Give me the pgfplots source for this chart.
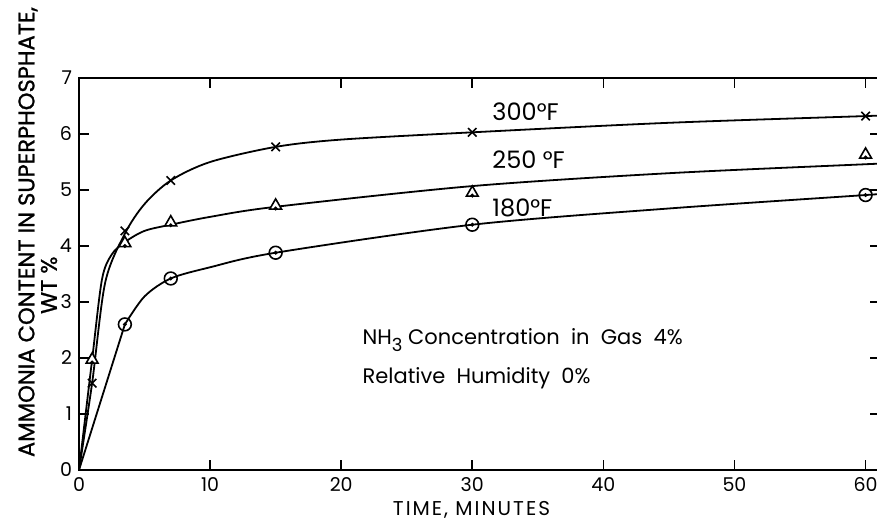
\documentclass[border=0pt]{standalone}
\usepackage{fontspec}
\setmainfont{Poppins}
\usepackage{pgfplots}
\pgfplotsset{compat=1.18}

\begin{document}
\begin{tikzpicture}
\begin{axis}[
  scale only axis,
  width=400.5pt, height=196pt,
  xmin=0, xmax=61.1, ymin=0, ymax=7,
  xtick={0,10,...,60}, ytick={0,...,7},
  tick align=inside, major tick length=5pt,
  axis line style={line width=1.3pt},
  tick style={line width=0.8pt, black},
  tick label style={font=\fontsize{9.5}{10}\selectfont},
  /pgf/number format/assume math mode=true,
  xlabel={TIME, MINUTES},
  xlabel style={font=\fontsize{10}{11}\selectfont\addfontfeatures{LetterSpace=10}, yshift=2pt, xshift=-4pt},
  clip=false,
  every axis plot/.append style={line width=0.9pt, black},
]
% fitted curves
\addplot[smooth, no marks] coordinates {(0,0) (1,1.55) (2,3.35) (3.5,4.22) (5,4.75) (7,5.17) (10,5.5) (15,5.77) (20,5.9) (30,6.03) (45,6.2) (60,6.32) (61.1,6.33)};
\addplot[smooth, no marks] coordinates {(0,0) (1,1.97) (1.75,3.4) (2.5,3.85) (3.5,4.07) (5,4.27) (7,4.38) (10,4.52) (15,4.7) (30,5.07) (45,5.3) (60,5.46) (61.1,5.47)};
\addplot[no marks] coordinates {(0,0) (3.5,2.6)};
\addplot[smooth, no marks] coordinates {(3.5,2.6) (5,3.1) (7,3.42) (10,3.62) (15,3.88) (30,4.38) (45,4.67) (60,4.91) (61.1,4.93)};

% measured points
% 300 F
\addplot[only marks, mark=x, mark size=3pt, mark options={line width=0.8pt}] coordinates {(1,1.55) (3.5,4.27) (7,5.17) (15,5.77) (30,6.03) (60,6.32)};
% 250 F
\addplot[only marks, mark=triangle*, mark size=3.4pt, mark options={fill=white, line width=0.8pt}] coordinates {(1,1.97) (3.5,4.05) (7,4.42) (15,4.72) (30,4.95) (60,5.63)};
\addplot[only marks, mark=*, mark size=0.45pt] coordinates {(1,1.92) (3.5,4.0) (7,4.37) (15,4.67) (30,4.9) (60,5.58)};
% 180 F
\addplot[only marks, mark=o, mark size=3.2pt, mark options={fill=white, line width=0.8pt}] coordinates {(3.5,2.6) (7,3.42) (15,3.88) (30,4.38) (60,4.91)};
\addplot[only marks, mark=*, mark size=0.45pt] coordinates {(3.5,2.6) (7,3.42) (15,3.88) (30,4.38) (60,4.91)};

\node[anchor=west, font=\fontsize{12}{14}\selectfont] at (axis cs:31.0,6.39) {300°F};
\node[anchor=west, font=\fontsize{12}{14}\selectfont] at (axis cs:31.0,5.54) {250 °F};
\node[anchor=west, font=\fontsize{12}{14}\selectfont] at (axis cs:31.0,4.68) {180°F};
\node[anchor=west, font=\fontsize{10.5}{12}\selectfont] at (axis cs:21.1,2.32) {NH\raisebox{-0.55ex}{\fontsize{9}{10}\selectfont 3}\ Concentration\ \ in\ \ Gas\ \ 4\%};
\node[anchor=west, font=\fontsize{10.5}{12}\selectfont] at (axis cs:21.1,1.64) {Relative\ \ Humidity\ \ 0\%};

\node[rotate=90, font=\fontsize{11.3}{12}\selectfont\addfontfeatures{FakeBold=1}] at ([xshift=-25.5pt]axis cs:0,4.25) {AMMONIA CONTENT IN SUPERPHOSPHATE,};
\node[rotate=90, font=\fontsize{11.3}{12}\selectfont\addfontfeatures{FakeBold=1}] at ([xshift=-15pt]axis cs:0,3.3) {WT \%};
\end{axis}
\pgfresetboundingbox
\path[use as bounding box] (-39.5pt,-24.5pt) rectangle (399pt,235pt);
\end{tikzpicture}
\end{document}
